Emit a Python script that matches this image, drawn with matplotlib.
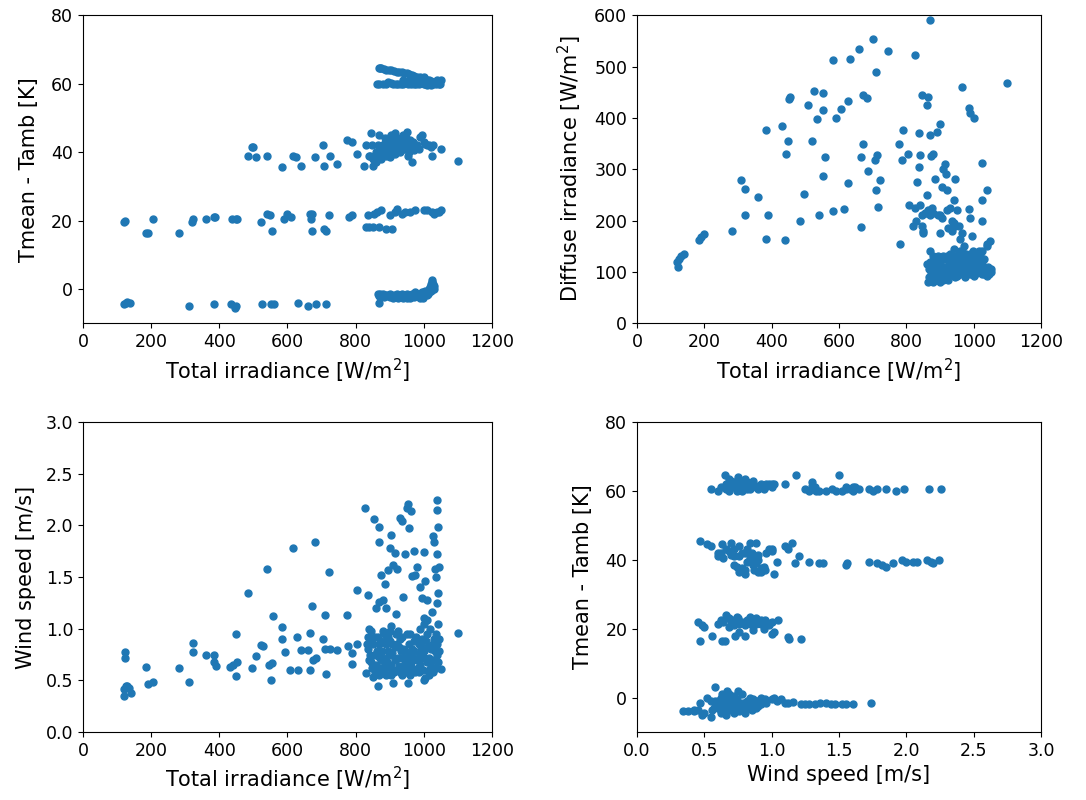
import numpy as np
import matplotlib.pyplot as plt

# --- Total irradiance vs Tmean - Tamb ---
g_dt_x = [120, 125, 130, 138, 310, 385, 435, 445, 450, 525, 553, 560, 630, 660, 685, 712,
          865, 868, 875, 880, 890, 900, 905, 910, 915, 920, 925, 930, 935, 940, 945, 950,
          955, 960, 965, 970, 975, 980, 985, 990, 995, 1000, 1005, 1010, 1015, 1018, 1020,
          1022, 1025, 1025, 1028, 1030, 1012, 998, 870, 885,
          120, 123, 185, 190, 205, 282, 320, 323, 360, 383, 388, 438, 448, 452, 523, 540,
          550, 555, 590, 598, 610, 665, 668, 672, 672, 707, 712, 722, 780, 790, 830, 835,
          840, 850, 855, 862, 868, 875, 890, 900, 908, 915, 920, 935, 945, 960, 975, 1000,
          1010, 1025, 1030, 1040, 1045, 1050,
          485, 497, 500, 508, 540, 585, 615, 625, 640, 682, 705, 708, 725, 745, 775, 790,
          805, 825, 830, 838, 845, 850, 852, 860, 865, 870, 875, 880, 885, 890, 895, 900,
          905, 910, 915, 920, 925, 930, 935, 940, 945, 950, 955, 960, 965, 970, 980, 990,
          1000, 1010, 1020, 1025, 1050, 1100, 860, 872, 915, 900,
          868, 875, 890, 905, 920, 935, 950, 965, 980, 995, 1005, 1015, 1030, 1045,
          862, 880, 895, 910, 925, 940, 955, 970, 985, 1000, 1010, 1020, 1035, 1048, 1050,
          960, 985, 1000, 940]
g_dt_y = [-4.5, -4, -3.8, -4, -5, -4.5, -4.5, -5.5, -5, -4.5, -4.5, -4.5, -4, -5, -4.5, -4.5,
          -1.5, -4, -2, -1.5, -2, -1.5, -2, -2.5, -2, -1.5, -2.5, -2, -1.5, -2.5, -2, -1.5,
          -2, -2.5, -1.5, -2, -1, -2, -1.5, -2.5, -1, -1.5, -0.5, -1, 0, 0.5, 1,
          1.5, 2, 2.5, 0, 1, -1.5, -2.5, -2, -1.8,
          19.5, 20, 16.5, 16.5, 20.5, 16.5, 19.5, 20.5, 20.5, 21, 21, 20.5, 20.5, 20.5, 19.5, 22,
          21.5, 17, 20.5, 22, 21, 22, 20.5, 22, 17, 17.5, 17, 21.5, 21, 21.5, 18, 21.5,
          18, 18, 22, 22.5, 18, 23, 17.5, 21.5, 17.5, 22.5, 23.5, 22, 22.5, 22.5, 23, 23,
          23, 22.5, 22, 22.5, 22.5, 23,
          39, 41.5, 41.5, 38.5, 39, 35.5, 39, 38.5, 36, 38.5, 42, 36, 39, 36.5, 43.5, 43,
          39.5, 36, 42, 39, 45.5, 38, 36, 40, 42, 45, 38, 41, 44, 39, 43, 40.5,
          45, 42, 39.5, 44, 41.5, 40, 43, 45, 41, 46, 39, 43.5, 37, 40.5, 42, 44.5,
          43, 42, 41.5, 39, 41, 37.5, 37, 39.5, 45.5, 38.5,
          64.5, 64.5, 64, 64, 63.5, 63.5, 63, 62.5, 62, 61.5, 61, 61, 60.5, 60.5,
          60, 60, 60.5, 60, 60, 60, 60, 60, 60, 60, 59.5, 59.5, 60, 60, 61,
          61.5, 61, 62, 61]
# denser parts of the high-irradiance clusters
g_dt_x_dense = [872, 882, 892, 902, 912, 922, 932, 942, 952, 962, 972, 982, 992, 1002, 1008, 1014,
                1020, 1026, 1030, 1022,
                872, 882, 898, 912, 928, 942, 958, 972, 988, 1000, 1010, 1022, 1038,
                870, 888, 903, 918, 932, 948, 962, 978, 992, 1005, 1015, 1028, 1042,
                975, 990, 1010, 1025, 1040, 1045,
                842, 848, 855, 862, 868, 878, 882, 888, 893, 898, 902, 908, 912, 918, 922, 928,
                932, 938, 942, 948, 952, 958, 962, 968, 975, 985, 995, 1005, 1015, 1028]
g_dt_y_dense = [-1.5, -2.2, -1.8, -2.2, -1.8, -2.2, -1.8, -2, -2.5, -1.8, -2.2, -1.5, -2, -1, -1.8, -0.8,
                -0.5, 1.5, 0, 0.3,
                64.5, 64.2, 64, 63.8, 63.5, 63.2, 62.8, 62.3, 61.8, 61.2, 61, 60.8, 60.6,
                60, 60, 60.2, 60, 60, 60.2, 60, 60, 60.2, 59.8, 60, 59.8, 60.2,
                61, 60.8, 60.5, 60.5, 61, 59.8,
                39, 42, 38.5, 39.5, 41, 40, 42.5, 42, 40, 44, 42, 41, 43, 40, 42, 42.5,
                44, 41, 43, 44, 41.5, 40, 42, 43, 42, 41, 45, 42.5, 42, 42]

# --- Total irradiance vs diffuse irradiance ---
g_gd_x = [120, 122, 125, 130, 138, 183, 190, 200, 283, 310, 322, 322, 360, 383, 383, 390,
          432, 438, 442, 448, 450, 455, 495, 485, 507, 520, 527, 535, 540, 552, 553, 552,
          557, 582, 582, 592, 605, 615, 627, 627, 633, 660, 665, 665, 670, 672, 682, 685,
          700, 708, 710, 712, 710, 715, 722, 745, 778, 780, 788, 790, 805, 808, 825, 832,
          837, 838, 840, 845, 840, 845, 850, 850, 860, 862, 865, 870, 870, 873, 880, 885,
          890, 900, 905, 910, 915, 918, 920, 900, 895, 945, 940, 965, 985, 988, 1000, 990,
          985, 995, 1025, 1025, 1040, 1025, 1100,
          820, 825, 830, 845, 855, 860, 865, 870, 875, 880, 900, 905, 920, 930, 935, 940,
          945, 950, 955, 960, 965, 970, 935, 925,
          865, 870, 875, 880, 885, 890, 895, 900, 905, 910, 915, 920, 925, 930, 935, 940,
          945, 950, 955, 960, 965, 970, 975, 980, 985, 990, 995, 1000, 1005, 1010, 1015, 1020,
          1025, 1030, 1035, 1040, 1045, 1048, 1040, 868, 878, 888, 898, 908, 918, 928, 938,
          948, 958, 968, 978, 988, 998, 1008, 1018, 1028, 1038, 1050, 870, 880, 900]
g_gd_y = [120, 110, 125, 130, 135, 163, 168, 173, 180, 278, 262, 210, 245, 377, 165, 210,
          384, 162, 330, 355, 437, 440, 252, 200, 426, 354, 452, 397, 210, 448, 415, 286,
          323, 512, 218, 400, 418, 222, 433, 274, 515, 535, 323, 188, 350, 445, 438, 297,
          554, 318, 489, 328, 260, 226, 278, 531, 350, 155, 317, 376, 330, 230, 523, 275,
          305, 370, 328, 445, 230, 210, 180, 175, 250, 426, 440, 366, 590, 325, 330, 280,
          372, 388, 265, 300, 310, 290, 260, 175, 210, 280, 240, 460, 420, 410, 400, 205,
          222, 170, 312, 240, 260, 200, 467,
          190, 225, 200, 190, 215, 215, 220, 210, 225, 215, 210, 205, 220, 225, 200, 195,
          190, 220, 190, 165, 175, 150, 180, 185,
          80, 120, 110, 100, 125, 90, 130, 115, 100, 85, 125, 105, 95, 135, 110, 100,
          90, 130, 115, 105, 140, 95, 125, 110, 100, 135, 120, 105, 95, 130, 110, 100,
          140, 95, 105, 150, 100, 160, 155, 90, 130, 110, 95, 130, 90, 120, 130,
          105, 95, 120, 100, 95, 140, 100, 135, 105, 100, 100, 140, 80, 80]
g_gd_x_dense = [862, 872, 882, 892, 902, 912, 922, 932, 942, 952, 962, 972, 982, 992, 1002, 1012,
                1022, 1032, 1042, 1047,
                866, 876, 886, 896, 906, 916, 926, 936, 946, 956, 966, 976, 986, 996, 1006, 1016,
                1026, 1036, 1044, 1050,
                885, 905, 925, 950, 975, 1000, 1025, 1040, 960, 1000, 1015, 940]
g_gd_y_dense = [115, 100, 120, 105, 125, 110, 130, 100, 120, 110, 130, 108, 125, 110, 125, 105,
                120, 125, 110, 105,
                105, 95, 100, 120, 110, 98, 108, 95, 125, 100, 110, 135, 120, 95, 115, 125,
                115, 98, 95, 105,
                85, 90, 85, 92, 90, 92, 95, 92, 140, 138, 140, 145]

# --- Total irradiance vs wind speed ---
g_ws_x = [120, 120, 122, 122, 125, 130, 135, 140, 185, 190, 205, 283, 310, 322, 323, 360,
          383, 385, 390, 432, 440, 448, 448, 452, 485, 495, 507, 523, 527, 540, 545, 553,
          555, 558, 583, 585, 593, 608, 615, 627, 630, 640, 660, 665, 665, 672, 675, 682,
          685, 705, 710, 712, 710, 722, 725, 745, 775, 778, 790, 790, 805, 805,
          828, 855, 868, 870, 875, 880, 885, 890, 895, 900, 905, 910, 915, 920, 930, 935,
          940, 945, 950, 955, 958, 962, 965, 970, 975, 980, 990, 995, 1000, 1005, 1010, 1025,
          1028, 1030, 1032, 1035, 1038, 1040, 1040, 1042, 1042, 1040, 1043, 1045, 1050, 1100,
          835, 860, 870, 905, 918, 1000,
          830, 835, 840, 845, 850, 855, 860, 865, 870, 875, 880, 885, 890, 895, 900, 905,
          910, 915, 920, 925, 930, 935, 940, 945, 950, 955, 960, 965, 970, 975, 980, 985,
          990, 995, 1000, 1005, 1010, 1015, 1020, 1025, 1030, 1035, 1040, 1045,
          838, 858, 878, 898, 918, 938, 958, 978, 998, 1018, 1028, 848, 868, 888, 908, 928,
          948, 968, 988, 1008, 1038, 845, 1000]
g_ws_y = [0.35, 0.42, 0.72, 0.77, 0.45, 0.45, 0.43, 0.38, 0.63, 0.46, 0.48, 0.62, 0.48, 0.86, 0.77, 0.75,
          0.75, 0.68, 0.64, 0.63, 0.65, 0.95, 0.54, 0.68, 1.35, 0.62, 0.74, 0.84, 0.83, 1.58, 0.65, 0.5,
          0.67, 1.12, 1.02, 0.9, 0.77, 0.6, 1.78, 0.92, 0.6, 0.79, 0.79, 0.96, 0.6, 1.22, 0.7, 1.84,
          0.72, 0.9, 1.13, 0.56, 0.8, 1.55, 0.8, 0.79, 1.13, 0.83, 0.66, 0.76, 1.37, 0.85,
          2.17, 2.06, 1.84, 1.98, 1.52, 1.28, 1.43, 1.2, 1.57, 1.78, 1.91, 1.62, 1.73, 1.58, 2.07, 2.04,
          1.31, 1.72, 2.17, 2.21, 1.97, 2.14, 1.51, 1.75, 1.52, 1.6, 1.4, 1.3, 1.74, 1.46, 1.28, 1.16,
          1.9, 1.84, 1.58, 1.5, 1.72, 2.25, 2.15, 1.98, 1.35, 1.25, 1.05, 1.6, 0.61, 0.96,
          1.33, 1.2, 1.26, 1.03, 1.14, 1.1,
          0.57, 0.8, 1.0, 0.9, 0.53, 0.75, 0.65, 0.45, 0.85, 0.7, 0.6, 0.95, 0.55, 0.78, 0.88, 0.65,
          0.47, 0.82, 0.6, 0.72, 0.9, 0.55, 0.8, 0.68, 0.95, 0.47, 0.75, 0.62, 0.88, 0.58, 0.7, 0.85,
          0.65, 0.9, 0.78, 0.52, 0.95, 0.6, 0.8, 0.7, 0.9, 0.62, 0.85, 0.9,
          0.7, 0.92, 0.78, 0.62, 0.95, 0.72, 0.85, 0.92, 0.6, 1.0, 0.58, 0.62, 0.73, 0.85, 0.76, 0.64,
          0.58, 0.7, 0.76, 0.68, 0.75, 0.98, 0.5]
g_ws_x_dense = [832, 842, 852, 862, 872, 882, 892, 902, 912, 922, 932, 942, 952, 962, 972, 982,
                992, 1002, 1012, 1022, 1032, 1042,
                836, 846, 856, 866, 876, 886, 896, 906, 916, 926, 936, 946, 956, 966, 976, 986,
                996, 1006, 1016, 1026, 1036, 1046,
                880, 900, 925, 960, 1000, 1010, 990, 870, 905, 930, 1015, 1020, 960]
g_ws_y_dense = [0.85, 0.75, 0.85, 0.78, 0.62, 0.72, 0.68, 0.75, 0.58, 0.85, 0.78, 0.62, 0.72, 0.68, 0.78, 0.62,
                0.82, 0.72, 0.82, 0.62, 0.78, 0.68,
                0.92, 0.68, 0.58, 0.92, 0.88, 0.65, 0.92, 0.85, 0.7, 0.82, 0.92, 0.78, 0.62, 0.8, 0.72, 0.58,
                0.72, 0.88, 0.72, 0.85, 0.95, 0.78,
                0.98, 0.98, 0.98, 0.95, 1.05, 1.08, 1.0, 0.55, 0.55, 0.58, 0.55, 0.65, 0.55]

# --- Wind speed vs Tmean - Tamb ---
ws_dt_x = [0.55, 0.6, 0.65, 0.68, 0.7, 0.72, 0.75, 0.75, 0.78, 0.8, 0.82, 0.85, 0.88, 0.9, 0.92, 0.95,
           0.98, 1.0, 1.02, 1.1, 1.18, 1.25, 1.28, 1.3, 1.32, 1.35, 1.4, 1.48, 1.5, 1.52, 1.55, 1.58,
           1.62, 1.72, 1.78, 1.85, 1.92, 1.98, 2.17, 2.26, 0.7, 0.78, 0.86, 1.45, 1.6, 1.75,
           0.47, 0.52, 0.55, 0.6, 0.62, 0.63, 0.68, 0.7, 0.72, 0.74, 0.76, 0.78, 0.8, 0.82, 0.84, 0.85,
           0.87, 0.88, 0.9, 0.92, 0.95, 0.98, 1.0, 1.02, 1.04, 1.1, 1.12, 1.15, 1.17, 1.2, 1.28, 1.35,
           1.38, 1.55, 1.56, 1.72, 1.78, 1.82, 1.85, 1.9, 1.97, 2.0, 2.05, 2.08, 2.15, 2.18, 2.2, 2.24,
           0.64, 0.78, 0.86, 0.9,
           0.45, 0.48, 0.47, 0.5, 0.56, 0.6, 0.62, 0.63, 0.65, 0.66, 0.7, 0.72, 0.73, 0.75, 0.78, 0.8,
           0.82, 0.85, 0.88, 0.9, 0.92, 0.95, 0.98, 1.0, 1.02, 1.05, 1.12, 1.13, 1.22, 0.68, 0.76, 0.86, 0.94,
           0.34, 0.38, 0.42, 0.45, 0.47, 0.48, 0.52, 0.55, 0.57, 0.58, 0.6, 0.62, 0.63, 0.65, 0.66, 0.67,
           0.68, 0.7, 0.72, 0.73, 0.75, 0.76, 0.78, 0.8, 0.82, 0.84, 0.86, 0.88, 0.9, 0.92, 0.95, 1.02,
           1.07, 1.1, 1.22, 1.25, 1.32, 1.36, 1.4, 1.47, 1.55, 1.6, 1.74, 0.64, 0.7, 0.74, 0.79, 0.6,
           0.85, 0.55, 0.66]
ws_dt_y = [60.5, 60, 64.5, 60, 63, 61, 60.5, 64, 62, 63.5, 60.5, 61.5, 61, 60.5, 62, 61,
           62, 61, 62, 62, 64.5, 60.5, 60, 62.5, 61, 60, 60, 60, 64.5, 60, 61, 60.5,
           61, 60.5, 60.5, 60.5, 60, 60.5, 60.5, 60.5, 61.5, 60, 63, 60.5, 60, 60,
           45.5, 44.5, 44, 41, 42, 44.5, 42.5, 45, 41, 38, 44, 42, 36, 39.5, 45, 42,
           37, 45, 41.5, 37.5, 37, 43, 42.5, 36, 39.5, 44, 43, 45, 39, 41, 39.5, 39,
           39, 38.5, 39, 39.5, 39, 38.5, 38, 39, 40, 39.5, 39.5, 39.5, 40, 39.5, 39, 40,
           40.5, 37.5, 40, 36.5,
           22, 21, 16.5, 20.5, 18, 21.5, 22.5, 16.5, 16.5, 24, 22, 21, 18, 23, 22, 18,
           22.5, 21, 23, 22, 21.5, 22.5, 21, 18.5, 19, 22.5, 17.5, 17, 17, 20.5, 19, 19.5, 20,
           -4, -4, -4, -3.5, -1.5, -5, 0, -5.5, -3, 3, -1, -4, 1, -2, -5, 2,
           -3, 0, -4.5, -1, 2, -2, 1, -4.5, -1, 0, -2, -1, -2.5, 0, -0.5, 0,
           -0.5, -1.5, -2, -2, -2, -1.5, -1.5, -2, -2, -2, -1.5, -3, -2.5, -3.5, -1.5, -2,
           -3.5, -1, 0.5]
ws_dt_x_dense = [0.62, 0.66, 0.68, 0.72, 0.74, 0.76, 0.8, 0.82, 0.84, 0.86, 0.9, 0.94, 0.96, 1.0,
                 1.3, 1.33, 1.55, 1.6, 1.65, 0.74, 0.66,
                 0.6, 0.66, 0.7, 0.72, 0.76, 0.8, 0.82, 0.84, 0.86, 0.88, 0.9, 0.92, 0.94, 0.96,
                 0.72, 0.8, 0.76, 1.0,
                 0.64, 0.68, 0.72, 0.76, 0.8, 0.84, 0.88, 0.92, 0.96, 1.0, 0.74, 0.84, 0.9,
                 0.58, 0.6, 0.62, 0.64, 0.66, 0.68, 0.7, 0.72, 0.74, 0.76, 0.78, 0.8, 0.82, 0.84,
                 0.86, 0.88, 0.9, 0.92, 0.66, 0.7, 0.62, 0.68, 0.72, 0.56, 0.5, 0.42, 1.0, 1.04,
                 1.12, 1.16, 1.28, 1.44, 1.52, 0.96]
ws_dt_y_dense = [61, 62, 63.5, 62.5, 61.5, 63, 61, 62.5, 60.5, 61.5, 61.5, 60.5, 62, 62,
                 61.5, 60, 60.5, 61, 60.5, 60, 60.5,
                 42, 43, 41.5, 43, 41, 42, 43, 40.5, 38.5, 39, 40, 36.5, 38, 42,
                 38.5, 37, 36.5, 43,
                 22, 23, 22.5, 21.5, 21, 22, 21.5, 22.5, 22, 22, 23.5, 23.5, 22,
                 -1, -3, 0, -1.5, -3.5, -1, -3.5, -2, -0.5, -4, -3, -2, -3, -1.5,
                 -0.5, -3, -1, -2, -2.5, -1.5, -4.5, 1, 0.5, -3.5, -4.5, -3.5, -0.5, -1,
                 -1.5, -1.2, -2, -2, -1.8, -1.5]

plt.rcParams['font.size'] = 15
plt.rcParams['xtick.labelsize'] = 12.5
plt.rcParams['ytick.labelsize'] = 12.5
plt.rcParams['axes.labelsize'] = 15
fig = plt.figure(figsize=(10.86, 8), dpi=100)

irr_label = 'Total irradiance [W/m$^2$]'
dt_label = 'Tmean - Tamb [K]'

ax1 = fig.add_axes([0.0764, 0.596, 0.3766, 0.385])
ax1.scatter(g_dt_x + g_dt_x_dense, g_dt_y + g_dt_y_dense, s=25)
ax1.set_xlim(0, 1200)
ax1.set_ylim(-10, 80)
ax1.set_xlabel(irr_label)
ax1.set_ylabel(dt_label, labelpad=9)

ax2 = fig.add_axes([0.5866, 0.596, 0.372, 0.385])
ax2.scatter(g_gd_x + g_gd_x_dense, g_gd_y + g_gd_y_dense, s=25)
ax2.set_xlim(0, 1200)
ax2.set_ylim(0, 600)
ax2.set_xlabel(irr_label)
ax2.set_ylabel('Diffuse irradiance [W/m$^2$]', labelpad=7)

ax3 = fig.add_axes([0.0764, 0.085, 0.3766, 0.3875])
ax3.scatter(g_ws_x + g_ws_x_dense, g_ws_y + g_ws_y_dense, s=25)
ax3.set_xlim(0, 1200)
ax3.set_ylim(0, 3)
ax3.set_xlabel(irr_label)
ax3.set_ylabel('Wind speed [m/s]', labelpad=7)

ax4 = fig.add_axes([0.5866, 0.085, 0.372, 0.3875])
ax4.scatter(ws_dt_x + ws_dt_x_dense, ws_dt_y + ws_dt_y_dense, s=25)
ax4.set_xlim(0, 3)
ax4.set_ylim(-10, 80)
ax4.set_xlabel('Wind speed [m/s]')
ax4.set_ylabel(dt_label, labelpad=9)

fig.savefig('out.png', dpi=100)
